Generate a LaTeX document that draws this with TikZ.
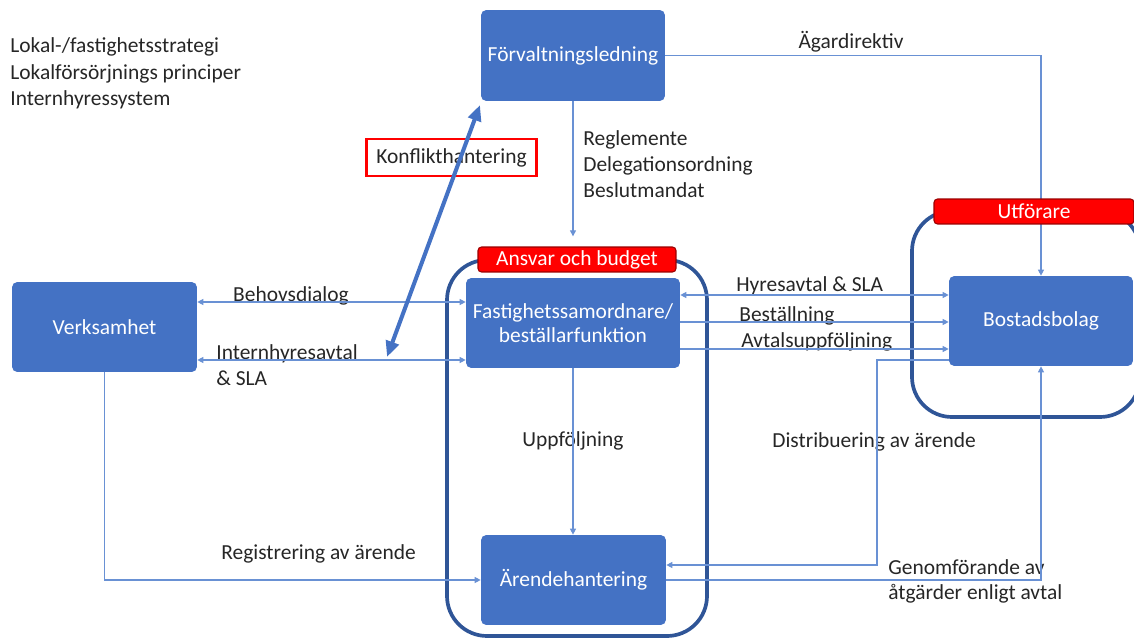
\documentclass[tikz,border=0pt]{standalone}
\usepackage{fontspec}
\setmainfont{Carlito}
\usetikzlibrary{arrows.meta,calc}
\definecolor{boxblue}{RGB}{68,114,196}
\definecolor{frameblue}{RGB}{47,85,151}
\definecolor{linkblue}{RGB}{105,145,212}
\definecolor{txt}{RGB}{38,38,38}
\begin{document}
\begin{tikzpicture}[x=0.02cm,y=-0.02cm,
 every node/.style={font=\fontsize{12.2}{15}\selectfont, text=txt},
 unit/.style={fill=boxblue, rounded corners=3pt, text=white, draw=none, align=center, inner sep=0pt},
 link/.style={draw=linkblue, line width=0.6pt},
 tipend/.style={-{Triangle[length=3.4pt,width=3.4pt]}},
 tipboth/.style={{Triangle[length=3.4pt,width=3.4pt]}-{Triangle[length=3.4pt,width=3.4pt]}},
 frame/.style={draw=frameblue, line width=2.1pt, rounded corners=0.8cm},
 tag/.style={fill=red, draw=red!60!black, line width=0.6pt, rounded corners=2pt, text=white, inner sep=0pt},
 lbl/.style={inner sep=0pt, align=left, anchor=west}]
\useasboundingbox (0,0) rectangle (1134,639);

% containers
\draw[frame] (447,260) rectangle (707,636);
\draw[frame] (912,211) rectangle (1140,417);

% units
\node[unit, minimum width=3.68cm, minimum height=1.82cm] (forv) at (573,55.5) {Förvaltningsledning};
\node[unit, minimum width=3.7cm, minimum height=1.8cm] (verk) at (104.5,327) {Verksamhet};
\node[unit, minimum width=4.28cm, minimum height=1.8cm, font=\fontsize{12.2}{13.8}\selectfont] (fast) at (573,323) {Fastighetssamordnare/\\beställarfunktion};
\node[unit, minimum width=3.7cm, minimum height=1.8cm] (aren) at (573.5,580) {Ärendehantering};
\node[unit, minimum width=3.68cm, minimum height=1.8cm] (bost) at (1041,321) {Bostadsbolag};

% labels
\node[lbl] (strat) at (10,73.5) {Lokal-/fastighetsstrategi\\Lokalförsörjnings principer\\Internhyressystem};
\node[inner sep=0pt] (agar) at (851,42) {Ägardirektiv};
\node[lbl] (regl) at (583,164) {Reglemente\\Delegationsordning\\Beslutmandat};
\node[inner sep=0pt] (behov) at (291,296) {Behovsdialog};
\node[lbl] (inthyr) at (216,365) {Internhyresavtal\\\& SLA};
\node[lbl] (hyres) at (736,286) {Hyresavtal \& SLA};
\node[lbl] (best) at (739,316) {Beställning};
\node[lbl] (avtal) at (741,342) {Avtalsuppföljning};
\node[inner sep=0pt] (uppf) at (573,441) {Uppföljning};
\node[lbl] (distr) at (772,442) {Distribuering av ärende};
\node[lbl] (regist) at (221,554) {Registrering av ärende};
\node[lbl, font=\fontsize{12.2}{14.2}\selectfont] (genom) at (888,581) {Genomförande av\\åtgärder enligt avtal};

% conflict box
\node[draw=red, line width=1.7pt, fill=white, minimum width=3.42cm, minimum height=0.74cm, inner sep=0pt] (konf) at (451.5,157.5) {Konflikthantering};

% thin connectors
\draw[link,tipend] (forv.east) -| (bost.north);
\draw[link,tipend] (forv.south) -- ($(forv.south)+(0,135)$);
\coordinate (b1) at ($(verk.east)+(0,-25)$);
\draw[link,tipboth] (b1) -- (b1 -| fast.west);
\coordinate (b2) at ($(verk.east)+(0,33)$);
\draw[link,tipboth] (b2) -- (b2 -| fast.west);
\coordinate (c1) at ($(fast.east)+(0,-28)$);
\draw[link,tipboth] (c1) -- (c1 -| bost.west);
\coordinate (c2) at ($(fast.east)+(0,-1)$);
\draw[link,tipend] (c2) -- (c2 -| bost.west);
\coordinate (c3) at ($(fast.east)+(0,26)$);
\draw[link,tipend] (c3) -- (c3 -| bost.west);
\coordinate (d1) at ($(bost.west)+(0,39)$);
\coordinate (d2) at ($(aren.east)+(0,-15)$);
\coordinate (dcorner) at (877,0);
\draw[link,tipend] (d1) -- (d1 -| dcorner) -- (d2 -| dcorner) -- (d2);
\draw[link,tipend] (aren.east) -| (bost.south);
\draw[link,tipend] (fast.south) -- (fast.south |- aren.north);
\draw[link,tipend] (verk.south) |- (aren.west);

% tags (over the connectors)
\node[tag, minimum width=3.96cm, minimum height=0.5cm] (tagA) at (577,259.5) {Ansvar och budget};
\node[tag, minimum width=4cm, minimum height=0.5cm] (tagU) at (1034,211.5) {Utförare};

% thick conflict arrow
\coordinate (kA) at (387,357);
\coordinate (kB) at (480,105);
\draw[draw=boxblue, line width=2.3pt, {Triangle[length=9pt,width=7.5pt]}-{Triangle[length=9pt,width=7.5pt]}] (kA) -- (kB);
\end{tikzpicture}
\end{document}
